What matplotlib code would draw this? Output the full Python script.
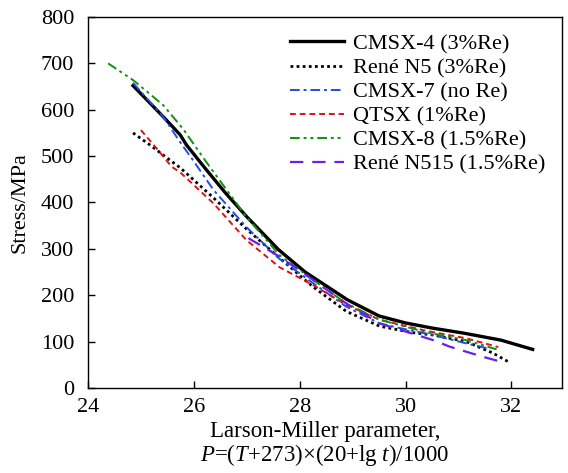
#!/usr/bin/env python

import matplotlib
matplotlib.use('Agg')
import matplotlib.pyplot as plt

# Curves (Larson-Miller parameter, stress in MPa)
CMSX4_P = [24.85, 25.42, 25.74, 25.86, 26.21, 26.6, 27.0, 27.6, 28.1, 28.9, 29.5, 30.0, 30.5, 31.1, 31.8, 32.4]
CMSX4_S = [652, 585, 546, 524, 474, 420, 369, 298, 250, 190, 155, 140, 129, 118, 103, 83]

N5_P = [24.85, 25.17, 25.55, 25.74, 26.37, 26.99, 27.62, 28.25, 28.88, 29.51, 30.14, 30.52, 31.14, 31.65, 31.93]
N5_S = [550, 524, 491, 475, 410, 343, 280, 218, 165, 133, 119, 114, 100, 75, 57]

CMSX7_P = [24.85, 25.42, 25.74, 25.99, 26.37, 26.99, 27.62, 28.25, 28.88, 29.51, 29.89, 30.52, 31.14, 31.6]
CMSX7_S = [658, 585, 530, 490, 427, 347, 278, 226, 175, 139, 129, 114, 96, 84]

QTSX_P = [25.0, 25.3, 25.58, 25.74, 26.37, 26.99, 27.62, 28.25, 28.88, 29.51, 30.39, 31.14, 31.75]
QTSX_S = [556, 516, 477, 465, 398, 319, 260, 222, 179, 147, 123, 107, 88]

CMSX8_P = [24.38, 24.85, 25.42, 25.8, 26.21, 26.99, 27.62, 28.25, 28.88, 29.51, 30.39, 31.14, 31.72]
CMSX8_S = [700, 664, 610, 558, 491, 369, 286, 233, 182, 147, 120, 103, 83]

N515_P = [27.03, 27.62, 28.25, 28.88, 29.51, 30.52, 30.83, 31.43, 31.75]
N515_S = [323, 283, 233, 182, 139, 103, 89, 68, 58]

LABELS = ['CMSX-4 (3%Re)', 'René N5 (3%Re)', 'CMSX-7 (no Re)',
          'QTSX (1%Re)', 'CMSX-8 (1.5%Re)', 'René N515 (1.5%Re)']


def main():
    plt.rcParams['font.family'] = ['Liberation Serif', 'DejaVu Serif']
    plt.rcParams['mathtext.fontset'] = 'custom'
    plt.rcParams['mathtext.rm'] = 'Liberation Serif'
    plt.rcParams['mathtext.it'] = 'Liberation Serif:italic'

    fig = plt.figure(figsize=(5.68, 4.73), dpi=100)
    ax = fig.add_axes([0.155, 0.180, 0.834, 0.784])

    ax.plot(CMSX4_P, CMSX4_S, color='black', lw=2.4, ls='-', label=LABELS[0])
    ax.plot(N5_P, N5_S, color='black', lw=2.0, ls=(0, (1, 1.2)), label=LABELS[1])
    ax.plot(CMSX7_P, CMSX7_S, color='#1f4fe0', lw=1.4, ls=(0, (5, 2, 1.5, 2)), label=LABELS[2])
    ax.plot(QTSX_P, QTSX_S, color='#e01010', lw=1.4, ls=(0, (3, 2)), label=LABELS[3])
    ax.plot(CMSX8_P, CMSX8_S, color='#109010', lw=1.4, ls=(0, (5, 2, 1.5, 2, 1.5, 2)), label=LABELS[4])
    ax.plot(N515_P, N515_S, color='#6a20e8', lw=1.6, ls=(0, (6, 4)), label=LABELS[5])

    ax.set_xlim(24, 32.95)
    ax.set_ylim(0, 800)
    ax.set_xticks([24, 26, 28, 30, 32])
    ax.set_yticks(range(0, 801, 100))
    ax.tick_params(direction='in', length=5, width=1, labelsize=16)
    ax.tick_params(axis='x', pad=7)
    ax.tick_params(axis='y', pad=10)
    for sp in ax.spines.values():
        sp.set_linewidth(1.0)

    ax.set_ylabel('Stress/MPa', fontsize=16, labelpad=8)
    ax.set_xlabel('Larson-Miller parameter,\n$P$=($T$+273)×(20+lg $t$)/1000',
                  fontsize=16.5, labelpad=3, linespacing=1.0)

    ax.legend(loc='upper right', frameon=False, fontsize=16, handlelength=2.4,
              handletextpad=0.4, labelspacing=0.16, borderaxespad=0.35,
              bbox_to_anchor=(1.0, 1.0))

    fig.savefig('out.png', dpi=100)


if __name__ == '__main__':
    main()
